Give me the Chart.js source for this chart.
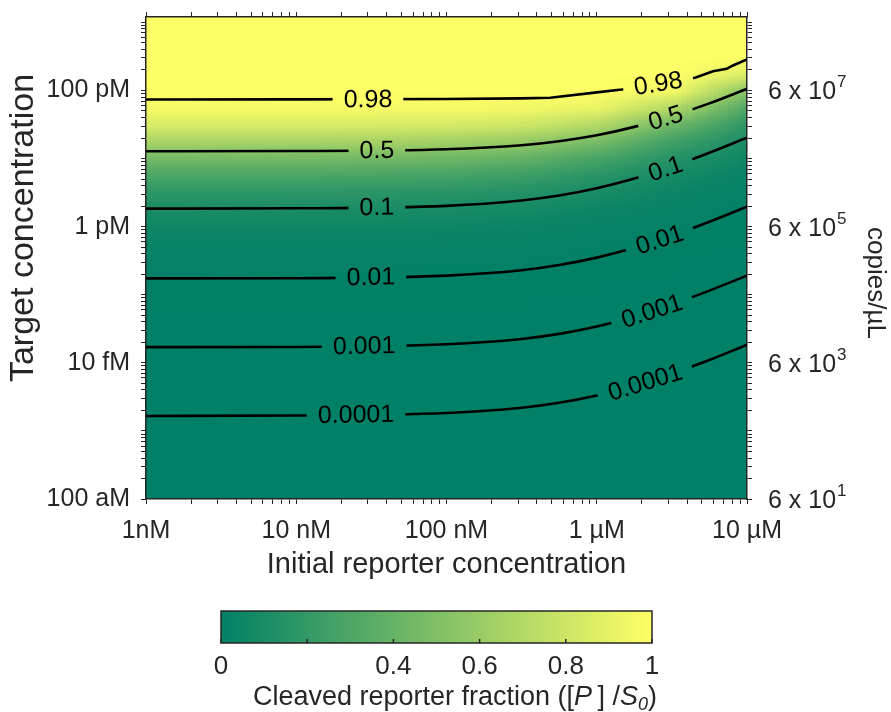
<!DOCTYPE html>
<html>
<head>
<meta charset="utf-8">
<script src="https://cdn.jsdelivr.net/npm/chart.js@4.4.1/dist/chart.umd.min.js"></script>
<style>
    html, body { margin: 0; padding: 0; background: #ffffff; }
    #wrap { width: 891px; height: 712px; }
</style>
</head>
<body>
<div id="wrap"><canvas id="chart" width="891" height="712"></canvas></div>
<script>
// grid of the simulated field: columns = initial reporter (M), rows = target (M), bottom to top
const reporterGrid = [1e-9, 3.16e-9, 1e-8, 3.16e-8, 1e-7, 3.16e-7, 1e-6, 3.16e-6, 1e-5];
const targetGrid = [
    1e-16, 1.78e-16, 3.16e-16, 5.62e-16, 1e-15, 1.78e-15, 3.16e-15, 5.62e-15,
    1e-14, 1.78e-14, 3.16e-14, 5.62e-14, 1e-13, 1.78e-13, 3.16e-13, 5.62e-13,
    1e-12, 1.78e-12, 3.16e-12, 5.62e-12, 1e-11, 1.78e-11, 3.16e-11, 5.62e-11,
    1e-10, 1.78e-10, 3.16e-10, 5.62e-10, 1e-9, 1.78e-9
];

// cleaved reporter fraction along each column
const frac1nM   = [0, 0, 0, 0, 0.0001, 0.0001, 0.0002, 0.0003, 0.0006, 0.0011, 0.0019, 0.0034, 0.006, 0.0106, 0.0189, 0.0333, 0.0585, 0.1017, 0.1735, 0.2875, 0.4528, 0.6577, 0.8512, 0.9663, 0.9976, 1, 1, 1, 1, 1];
const frac3nM   = [0, 0, 0, 0, 0.0001, 0.0001, 0.0002, 0.0003, 0.0006, 0.0011, 0.0019, 0.0034, 0.006, 0.0106, 0.0189, 0.0333, 0.0584, 0.1015, 0.1733, 0.2873, 0.4525, 0.6575, 0.851, 0.9662, 0.9976, 1, 1, 1, 1, 1];
const frac10nM  = [0, 0, 0, 0, 0.0001, 0.0001, 0.0002, 0.0003, 0.0006, 0.0011, 0.0019, 0.0034, 0.0059, 0.0105, 0.0187, 0.033, 0.058, 0.1008, 0.1722, 0.286, 0.4503, 0.6554, 0.85, 0.966, 0.9976, 1, 1, 1, 1, 1];
const frac32nM  = [0, 0, 0, 0, 0.0001, 0.0001, 0.0002, 0.0003, 0.0006, 0.001, 0.0018, 0.0033, 0.0058, 0.0103, 0.0184, 0.0325, 0.057, 0.0988, 0.169, 0.2812, 0.445, 0.6506, 0.847, 0.9653, 0.9976, 1, 1, 1, 1, 1];
const frac100nM = [0, 0, 0, 0, 0.0001, 0.0001, 0.0002, 0.0003, 0.0005, 0.001, 0.0017, 0.0031, 0.0055, 0.0097, 0.0173, 0.0304, 0.0535, 0.093, 0.16, 0.268, 0.429, 0.635, 0.838, 0.963, 0.9973, 1, 1, 1, 1, 1];
const frac316nM = [0, 0, 0, 0, 0, 0.0001, 0.0001, 0.0003, 0.0005, 0.0008, 0.0014, 0.0026, 0.0046, 0.0081, 0.0145, 0.0255, 0.045, 0.079, 0.137, 0.233, 0.3825, 0.588, 0.808, 0.9544, 0.9967, 1, 1, 1, 1, 1];
const frac1uM   = [0, 0, 0, 0, 0, 0.0001, 0.0001, 0.0002, 0.0003, 0.0005, 0.001, 0.0017, 0.003, 0.0054, 0.0096, 0.0169, 0.0299, 0.0529, 0.093, 0.1621, 0.2777, 0.4585, 0.70, 0.9157, 0.9935, 0.9999, 1, 1, 1, 1];
const frac3uM   = [0, 0, 0, 0, 0, 0, 0, 0.0001, 0.0001, 0.0003, 0.0005, 0.0008, 0.0014, 0.0026, 0.0046, 0.0081, 0.0145, 0.0257, 0.0455, 0.0806, 0.1422, 0.2486, 0.4266, 0.6958, 0.9513, 0.9995, 1, 1, 1, 1];
const frac10uM  = [0, 0, 0, 0, 0, 0, 0, 0, 0, 0.0001, 0.0002, 0.0003, 0.0005, 0.001, 0.0017, 0.0031, 0.0055, 0.0097, 0.0173, 0.0308, 0.0547, 0.097, 0.1717, 0.303, 0.528, 0.869, 0.9999, 1, 1, 1];
const fractionColumns = [frac1nM, frac3nM, frac10nM, frac32nM, frac100nM, frac316nM, frac1uM, frac3uM, frac10uM];

// contour lines (target concentration where the fraction reaches each level)
const contourX  = [1e-9, 1e-8, 1e-7, 3.16e-7, 5.62e-7, 1e-6, 1.78e-6, 3.16e-6, 5.62e-6, 1e-5];
const level1e4  = [1.66e-15, 1.68e-15, 1.83e-15, 2.19e-15, 2.59e-15, 3.32e-15, 4.61e-15, 6.92e-15, 1.10e-14, 1.84e-14];
const level1e3  = [1.70e-14, 1.71e-14, 1.87e-14, 2.24e-14, 2.66e-14, 3.41e-14, 4.76e-14, 7.18e-14, 1.15e-13, 1.91e-13];
const level1e2  = [1.74e-13, 1.75e-13, 1.91e-13, 2.29e-13, 2.73e-13, 3.51e-13, 4.89e-13, 7.35e-13, 1.18e-12, 1.97e-12];
const level1e1  = [1.84e-12, 1.86e-12, 2.02e-12, 2.42e-12, 2.86e-12, 3.66e-12, 5.08e-12, 7.62e-12, 1.22e-11, 2.03e-11];
const levelHalf = [1.28e-11, 1.29e-11, 1.37e-11, 1.57e-11, 1.80e-11, 2.20e-11, 2.92e-11, 4.19e-11, 6.46e-11, 1.06e-10];
const level98X  = [1e-9, 1e-8, 1e-7, 3.16e-7, 4.9e-7, 1e-6, 1.47e-6, 2.51e-6, 4.51e-6, 5.94e-6, 7.33e-6, 8.07e-6, 1e-5];
const level98Y  = [7.38e-11, 7.40e-11, 7.48e-11, 7.66e-11, 7.82e-11, 9.38e-11, 1.035e-10, 1.26e-10, 1.54e-10, 1.92e-10, 2.08e-10, 2.33e-10, 2.86e-10];

const levelNames  = ['0.0001', '0.001', '0.01', '0.1', '0.5', '0.98'];
const labelLeftX  = [2.5e-8, 2.83e-8, 3.14e-8, 3.44e-8, 3.44e-8, 3.0e-8];
const labelRightX = [2.1e-6, 2.33e-6, 2.62e-6, 2.87e-6, 2.87e-6, 2.56e-6];

// axes
const xTickValues = [1e-9, 1e-8, 1e-7, 1e-6, 1e-5];
const xTickLabels = ['1nM', '10 nM', '100 nM', '1 µM', '10 µM'];
const yTickValues = [1e-16, 1e-14, 1e-12, 1e-10];
const yTickLabels = ['100 aM', '10 fM', '1 pM', '100 pM'];
const copiesExponents = ['1', '3', '5', '7'];
const yMax = 1.2e-9;

const cbTicks = [0, 0.2, 0.4, 0.6, 0.8, 1];
const cbLabels = ['0', '', '0.4', '0.6', '0.8', '1'];

const FONT = '"Liberation Sans", Arial, sans-serif';
const INK = '#262626';
Chart.defaults.font.family = FONT;
Chart.defaults.color = INK;

function summer(f) {
    return [Math.round(255 * f), Math.round(127.5 + 127.5 * f), 102];
}

function rgb(c) {
    return `rgb(${c[0]}, ${c[1]}, ${c[2]})`;
}

function logTicks(firstExp, maxValue) {
    const out = [];
    for (let e = firstExp; e < 0; e++) {
        for (let m = 1; m <= 9; m++) {
            const v = m * Math.pow(10, e);
            if (v > maxValue * 1.0001) return out;
            out.push({ value: v });
        }
    }
    return out;
}

function labelFor(values, labels) {
    return (value) => {
        const i = values.findIndex(t => Math.abs(Math.log10(t) - Math.log10(value)) < 1e-6);
        return i >= 0 ? labels[i] : '';
    };
}

// keep the vertical axes from pushing the plot box down
function fixWidth(w) {
    return s => {
        s.width = w;
        s.paddingTop = 0;
        s.paddingBottom = 0;
    };
}

// small image holding one pixel per grid node; drawn stretched (smoothed) over the scales
const heatImage = (() => {
    const c = document.createElement('canvas');
    c.width = reporterGrid.length;
    c.height = targetGrid.length;
    const g = c.getContext('2d');
    const img = g.createImageData(c.width, c.height);
    fractionColumns.forEach((col, i) => {
        col.forEach((f, j) => {
            const k = ((c.height - 1 - j) * c.width + i) * 4;
            const [r, gg, b] = summer(f);
            img.data[k] = r;
            img.data[k + 1] = gg;
            img.data[k + 2] = b;
            img.data[k + 3] = 255;
        });
    });
    g.putImageData(img, 0, 0);
    return c;
})();

const contourSets = [
    { xs: contourX, ys: level1e4 },
    { xs: contourX, ys: level1e3 },
    { xs: contourX, ys: level1e2 },
    { xs: contourX, ys: level1e1 },
    { xs: contourX, ys: levelHalf },
    { xs: level98X, ys: level98Y, straight: true },
];

const datasets = contourSets.map((c, i) => ({
    label: levelNames[i],
    data: c.xs.map((x, k) => ({ x: x, y: c.ys[k] })),
    showLine: true,
    borderColor: '#000000',
    borderWidth: 2.6,
    pointRadius: 0,
    pointHoverRadius: 0,
    fill: false,
    tension: c.straight ? 0 : 0.4,
    cubicInterpolationMode: c.straight ? 'default' : 'monotone',
}));

function yOnLine(pts, px) {
    for (let i = 1; i < pts.length; i++) {
        if (pts[i].x >= px) {
            const a = pts[i - 1], b = pts[i];
            const t = (px - a.x) / (b.x - a.x);
            return a.y + t * (b.y - a.y);
        }
    }
    return pts[pts.length - 1].y;
}

function contourLabels(chart) {
    const ctx = chart.ctx;
    ctx.font = `25px ${FONT}`;
    const out = [];
    levelNames.forEach((name, i) => {
        const pts = chart.getDatasetMeta(i).data;
        [labelLeftX[i], labelRightX[i]].forEach(lx => {
            const px = chart.scales.x.getPixelForValue(lx);
            const py = yOnLine(pts, px);
            const ang = Math.atan2(yOnLine(pts, px + 18) - yOnLine(pts, px - 18), 36);
            out.push({ text: name, x: px, y: py, ang: ang, w: ctx.measureText(name).width });
        });
    });
    return out;
}

const contourPlugin = {
    id: 'contourField',
    beforeDraw(chart) {
        const { ctx, chartArea: a, scales: { x, y } } = chart;
        const n = reporterGrid.length, m = targetGrid.length;
        const x0 = x.getPixelForValue(reporterGrid[0]);
        const x1 = x.getPixelForValue(reporterGrid[n - 1]);
        const yb = y.getPixelForValue(targetGrid[0]);
        const yt = y.getPixelForValue(targetGrid[m - 1]);
        const dx = (x1 - x0) / (n - 1);
        const dy = (yb - yt) / (m - 1);
        ctx.save();
        ctx.beginPath();
        ctx.rect(a.left, a.top, a.right - a.left, a.bottom - a.top);
        ctx.clip();
        ctx.imageSmoothingEnabled = true;
        ctx.drawImage(heatImage, x0 - dx / 2, yt - dy / 2, x1 - x0 + dx, yb - yt + dy);
        ctx.restore();
    },
    beforeDatasetsDraw(chart) {
        const ctx = chart.ctx;
        const labels = contourLabels(chart);
        chart.$contourLabels = labels;
        ctx.save();
        ctx.beginPath();
        ctx.rect(0, 0, chart.width, chart.height);
        labels.forEach(l => {
            const hw = l.w / 2 + 11, hh = 16;
            const c = Math.cos(l.ang), s = Math.sin(l.ang);
            const corners = [[-hw, -hh], [hw, -hh], [hw, hh], [-hw, hh]];
            corners.forEach(([u, v], k) => {
                const px = l.x + u * c - v * s;
                const py = l.y + u * s + v * c;
                if (k === 0) ctx.moveTo(px, py); else ctx.lineTo(px, py);
            });
            ctx.closePath();
        });
        ctx.clip('evenodd');
    },
    afterDatasetsDraw(chart) {
        const ctx = chart.ctx;
        ctx.restore();
        ctx.save();
        ctx.fillStyle = '#000000';
        ctx.font = `25px ${FONT}`;
        ctx.textAlign = 'center';
        ctx.textBaseline = 'middle';
        chart.$contourLabels.forEach(l => {
            ctx.save();
            ctx.translate(l.x, l.y);
            ctx.rotate(l.ang);
            ctx.fillText(l.text, 0, 1);
            ctx.restore();
        });
        ctx.restore();
    },
    afterDraw(chart) {
        const { ctx, chartArea: a, scales: { y2 } } = chart;
        ctx.save();
        ctx.fillStyle = INK;

        // right axis: copies per microlitre
        yTickValues.forEach((v, i) => {
            const py = y2.getPixelForValue(v);
            ctx.font = `25px ${FONT}`;
            ctx.textAlign = 'left';
            ctx.textBaseline = 'alphabetic';
            const base = '6 x 10';
            const xs = a.right + 21;
            ctx.fillText(base, xs, py + 9);
            const w = ctx.measureText(base).width;
            ctx.font = `17px ${FONT}`;
            ctx.fillText(copiesExponents[i], xs + w + 1, py - 3);
        });

        // axis titles on both sides
        ctx.font = `34px ${FONT}`;
        ctx.textAlign = 'center';
        ctx.textBaseline = 'middle';
        ctx.save();
        ctx.translate(24, 228);
        ctx.rotate(-Math.PI / 2);
        ctx.fillText('Target concentration', 0, 0);
        ctx.restore();
        ctx.font = `26px ${FONT}`;
        ctx.save();
        ctx.translate(875, 283);
        ctx.rotate(Math.PI / 2);
        ctx.fillText('copies/µL', 0, 0);
        ctx.restore();

        // colour bar
        const cb = { left: 221, right: 652, top: 611, bottom: 643 };
        const grad = ctx.createLinearGradient(cb.left, 0, cb.right, 0);
        grad.addColorStop(0, rgb(summer(0)));
        grad.addColorStop(1, rgb(summer(1)));
        ctx.fillStyle = grad;
        ctx.fillRect(cb.left, cb.top, cb.right - cb.left, cb.bottom - cb.top);
        ctx.strokeStyle = INK;
        ctx.lineWidth = 1.5;
        ctx.strokeRect(cb.left, cb.top, cb.right - cb.left, cb.bottom - cb.top);
        ctx.fillStyle = INK;
        ctx.font = `26px ${FONT}`;
        ctx.textAlign = 'center';
        ctx.textBaseline = 'alphabetic';
        cbTicks.forEach((t, i) => {
            const px = cb.left + t * (cb.right - cb.left);
            ctx.beginPath();
            ctx.moveTo(px, cb.bottom);
            ctx.lineTo(px, cb.bottom - 4);
            ctx.stroke();
            if (cbLabels[i]) ctx.fillText(cbLabels[i], px, 674);
        });

        // colour bar title with italic symbols
        const parts = [
            ['Cleaved reporter fraction ([', `27px ${FONT}`, 0],
            ['P', `italic 27px ${FONT}`, 0],
            ['\u2009] /', `27px ${FONT}`, 0],
            ['S', `italic 27px ${FONT}`, 0],
            ['0', `italic 18px ${FONT}`, 5],
            [')', `27px ${FONT}`, 0],
        ];
        let total = 0;
        parts.forEach(p => { ctx.font = p[1]; total += ctx.measureText(p[0]).width; });
        let cx = 455 - total / 2;
        ctx.textAlign = 'left';
        parts.forEach(p => {
            ctx.font = p[1];
            ctx.fillText(p[0], cx, 705 + p[2]);
            cx += ctx.measureText(p[0]).width;
        });
        ctx.restore();
    }
};

const axisGrid = { drawOnChartArea: false, color: INK, tickLength: 5, lineWidth: 1 };
const axisBorder = { display: true, color: INK, width: 1.5 };

new Chart(document.getElementById('chart'), {
    type: 'scatter',
    data: { datasets: datasets },
    options: {
        responsive: false,
        animation: false,
        layout: { padding: 0, autoPadding: false },
        plugins: { legend: { display: false }, tooltip: { enabled: false } },
        scales: {
            x: {
                type: 'logarithmic', position: 'bottom', min: 1e-9, max: 1e-5,
                afterBuildTicks: s => { s.ticks = logTicks(-9, 1e-5); },
                afterFit: s => { s.height = 213; },
                ticks: { autoSkip: false, maxRotation: 0, padding: 12, font: { size: 25 }, color: INK,
                         callback: labelFor(xTickValues, xTickLabels) },
                grid: axisGrid, border: axisBorder,
                title: { display: true, text: 'Initial reporter concentration', color: INK,
                         font: { size: 29 }, padding: { top: 0, bottom: 130 } }
            },
            x2: {
                type: 'logarithmic', position: 'top', min: 1e-9, max: 1e-5,
                afterBuildTicks: s => { s.ticks = logTicks(-9, 1e-5); },
                afterFit: s => { s.height = 17; },
                ticks: { autoSkip: false, maxRotation: 0, callback: () => '' },
                grid: axisGrid, border: axisBorder
            },
            y: {
                type: 'logarithmic', position: 'left', min: 1e-16, max: yMax,
                afterBuildTicks: s => { s.ticks = logTicks(-16, yMax); },
                afterFit: fixWidth(146),
                ticks: { autoSkip: false, padding: 11, font: { size: 25 }, color: INK,
                         callback: labelFor(yTickValues, yTickLabels) },
                grid: axisGrid, border: axisBorder
            },
            y2: {
                type: 'logarithmic', position: 'right', min: 1e-16, max: yMax,
                afterBuildTicks: s => { s.ticks = logTicks(-16, yMax); },
                afterFit: fixWidth(144),
                ticks: { autoSkip: false, callback: () => '' },
                grid: axisGrid, border: axisBorder
            }
        }
    },
    plugins: [contourPlugin]
});
</script>
</body>
</html>
